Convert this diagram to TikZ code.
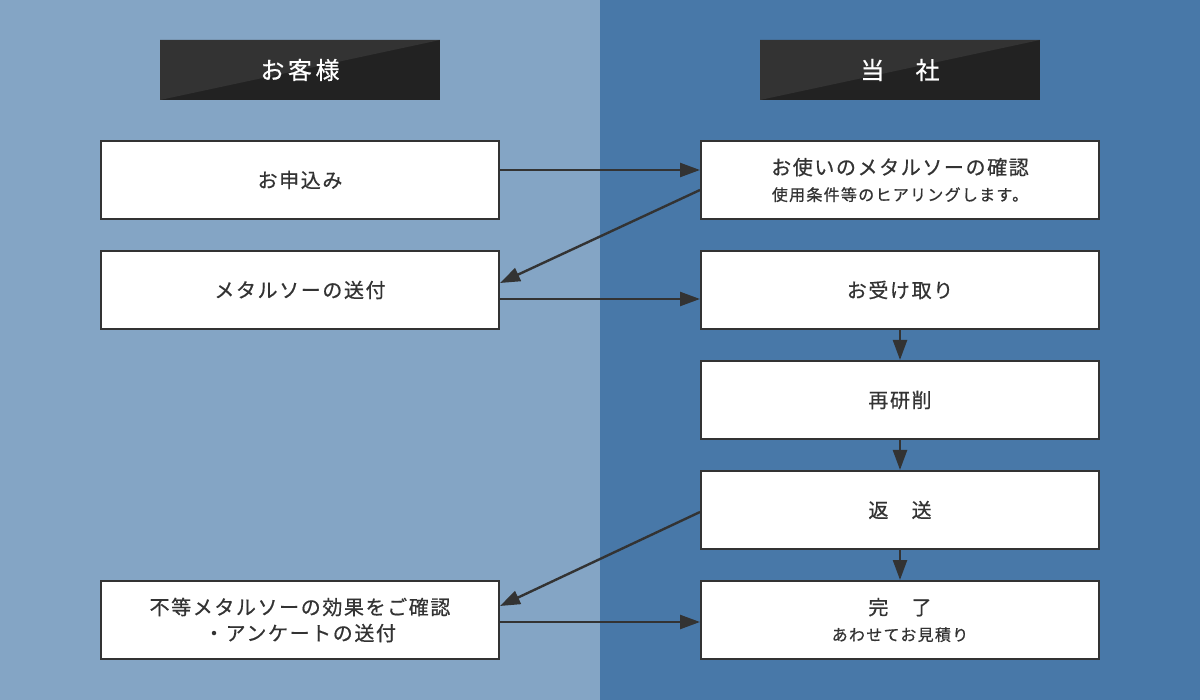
\documentclass[tikz,border=0pt]{standalone}
\usepackage{fontspec}
\setmainfont{Noto Sans CJK JP}
\usepackage{xcolor}
\usepackage{tikz}
\usetikzlibrary{arrows.meta,positioning,calc}
\definecolor{clientbg}{HTML}{84A5C5}
\definecolor{companybg}{HTML}{4878A8}
\definecolor{hdrdark}{HTML}{222222}
\definecolor{hdrlight}{HTML}{333333}
\definecolor{ink}{HTML}{333333}

\begin{document}
\begin{tikzpicture}[x=1pt,y=-1pt,>={Triangle[length=20pt,width=14pt]},
  flow/.style={->,draw=ink,line width=2.4pt},
  stepbox/.style={draw=ink,line width=2pt,fill=white,minimum width=398pt,
    minimum height=78pt,inner sep=0pt,align=center,text=ink,
    font=\fontsize{20}{26}\selectfont\addfontfeatures{LetterSpace=8,FakeBold=0.6}},
  hdr/.style={fill=hdrdark,minimum width=280pt,minimum height=60pt,inner sep=0pt,
    text=white,font=\fontsize{24}{26}\selectfont\addfontfeatures{LetterSpace=15,FakeBold=0.6},
    path picture={\fill[hdrlight] (path picture bounding box.north west)
      -- (path picture bounding box.north east)
      -- (path picture bounding box.south west) -- cycle;}}]
          \useasboundingbox (0,0) rectangle (1200,700);
          \fill[clientbg] (0,0) rectangle (600,700);
          \fill[companybg] (600,0) rectangle (1200,700);
          % column heads
          \node[hdr] at (300,70) (hclient) {お客様};
          \node[hdr] at (900,70) (hcompany) {当　社};
          % client side
          \node[stepbox] at (300,180) (apply) {お申込み};
          \node[stepbox] at (300,290) (send) {メタルソーの送付};
          \node[stepbox] at (300,620) (survey) {不等メタルソーの効果をご確認\\・アンケートの送付};
          % company side
          \node[stepbox] at (900,180) (check) {お使いのメタルソーの確認\\{\fontsize{16}{18}\selectfont 使用条件等のヒアリングします。}};
          \node[stepbox] at (900,290) (receive) {お受け取り};
          \node[stepbox] at (900,400) (regrind) {再研削};
          \node[stepbox] at (900,510) (ret) {返　送};
          \node[stepbox] at (900,620) (done) {完　了\\{\fontsize{16}{18}\selectfont あわせてお見積り}};
          \draw[flow] ([yshift=10pt]apply.east) -- ([yshift=10pt]check.west);
          \draw[flow] ([yshift=-10pt]check.west) -- ([yshift=7pt]send.east);
          \draw[flow] ([yshift=-9pt]send.east) -- ([yshift=-9pt]receive.west);
          \draw[flow] (receive) -- (regrind);
          \draw[flow] (regrind) -- (ret);
          \draw[flow] (ret) -- (done);
          \draw[flow] ([yshift=-2pt]ret.west) -- ([yshift=14pt]survey.east);
          \draw[flow] ([yshift=-2pt]survey.east) -- ([yshift=-2pt]done.west);
        \end{tikzpicture}
\end{document}
